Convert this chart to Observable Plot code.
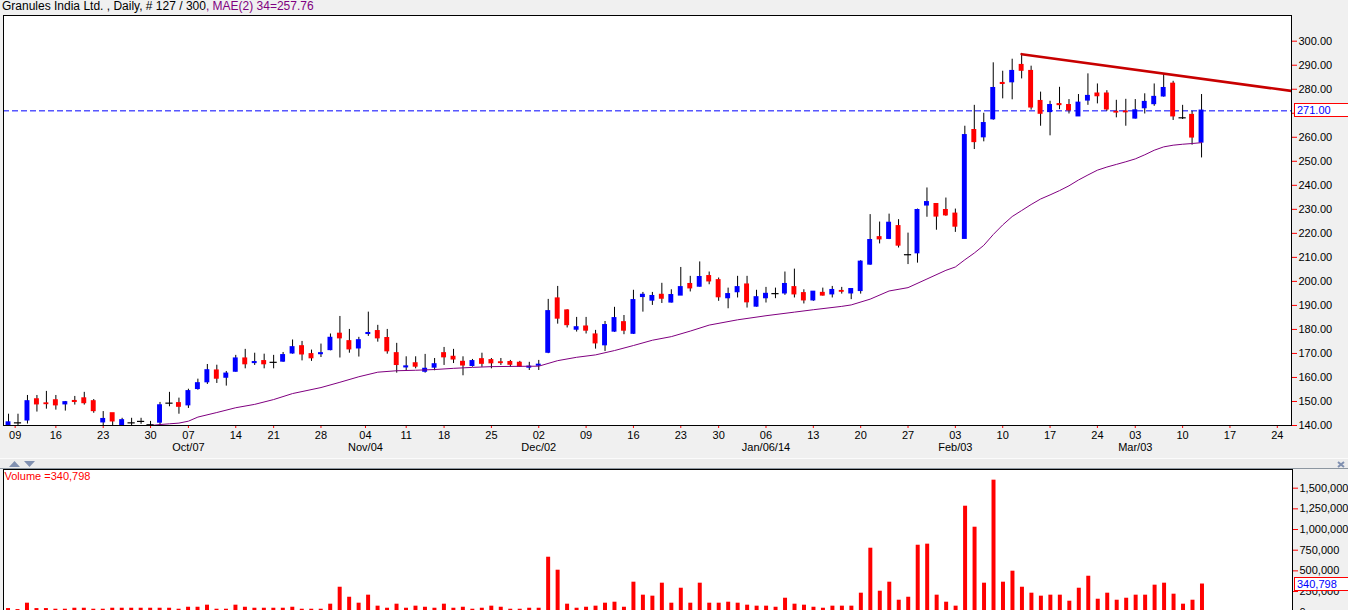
<!DOCTYPE html>
<html><head><meta charset="utf-8">
<script src="https://cdn.jsdelivr.net/npm/d3@7"></script>
<script src="https://cdn.jsdelivr.net/npm/@observablehq/plot@0.6"></script>
<style>
html,body{margin:0;padding:0;background:#f0f0f0;width:1348px;height:610px;overflow:hidden;font-family:"Liberation Sans",Arial,sans-serif;}
#title{position:absolute;left:2px;top:0;height:14px;font-size:12px;line-height:13px;white-space:nowrap;color:#000;}
#title .ma{color:#800080;}
#price{position:absolute;left:0;top:14px;}
#vol{position:absolute;left:0;top:460px;}
#sep{position:absolute;left:0;top:455px;}
.valbox{position:absolute;left:1294px;width:52px;height:12px;border:1px solid #ff0000;background:#fff;color:#0000ff;font-size:11px;line-height:12px;padding-left:2px;box-sizing:content-box;}
</style></head><body>
<div id="title">Granules India Ltd. , Daily, # 127 / 300<span class="ma">, MAE(2) 34=257.76</span></div>
<svg id="sep" width="1348" height="14">
  <rect x="0" y="3" width="1348" height="1" fill="#fbfbfb"/>
  <rect x="0" y="4" width="1348" height="9" fill="#ececec"/>
  <rect x="0" y="13" width="1348" height="1" fill="#8c96a0"/>
  <polygon points="9,12 20,12 14.5,6" fill="#8090b0"/>
  <polygon points="24,6 35,6 29.5,12" fill="#8090b0"/>
  <path d="M1338,7 L1344,12 M1344,7 L1338,12" stroke="#8090b0" stroke-width="2"/>
</svg>
<div id="price"></div>
<div id="vol"></div>
<script>
// ---------------- data ----------------
const startDate = "2013-09-06";
const holidays = ["2013-09-09","2013-10-02","2013-10-16","2013-11-04","2013-11-15","2013-12-25","2014-02-27"];

const opens = [140.2,141.1,142.2,150.8,149.1,150.4,148.9,150.1,151.2,150.0,141.4,145.0,140.0,141.1,141.7,140.3,
141.3,149.3,149.2,148.5,155.3,158.1,162.8,160.0,162.5,167.8,166.1,166.7,166.3,166.7,170.1,172.9,169.6,169.8,171.5,178.1,175.0,
172.2,178.2,179.2,176.3,170.0,164.3,165.8,162.5,164.2,170.0,168.5,166.4,164.9,167.5,167.1,166.2,166.3,166.0,164.2,
165.0,170.4,192.8,187.8,180.0,181.1,177.8,173.5,179.2,182.9,178.3,193.6,192.1,194.3,191.3,194.2,198.8,197.9,202.1,200.4,193.1,
195.6,198.6,189.6,193.1,194.9,195.1,197.5,195.0,192.2,195.1,194.7,195.9,195.1,196.1,207.1,218.3,217.8,222.9,211.1,211.8,231.7,232.1,229.6,
228.1,217.8,262.9,260.1,267.6,282.5,283.0,290.0,287.5,275.0,270.6,273.7,273.3,268.8,275.4,278.1,278.1,270.5,270.6,
267.9,272.2,273.9,277.1,282.2,268.1,269.2,257.9];
const highs = [144.7,144.7,152.5,152.5,154.2,152.5,150.0,152.1,153.8,150.8,145.8,145.0,143.0,143.0,143.0,141.7,
149.6,153.8,151.4,155.1,159.3,165.4,165.1,162.5,169.2,171.7,170.1,169.7,169.2,170.4,175.6,175.0,171.4,173.9,178.1,185.4,180.0,
176.7,187.2,181.7,180.0,174.2,168.6,168.6,169.6,167.9,172.5,171.7,168.6,167.5,170.1,167.9,167.9,167.1,166.7,166.3,
167.1,192.5,197.9,188.2,185.0,185.0,179.6,183.3,189.2,185.8,196.3,195.4,195.4,199.2,196.5,205.8,202.1,208.1,203.9,201.4,197.2,
202.1,202.1,196.3,197.5,197.2,203.9,205.1,196.5,195.8,197.2,197.9,197.5,196.7,208.6,227.8,224.7,228.0,225.7,220.1,230.1,238.9,232.1,234.7,
230.1,264.6,273.3,270.0,291.0,287.5,292.5,294.2,289.6,278.8,275.0,280.8,275.7,277.8,286.4,282.2,279.4,275.4,275.8,
275.7,278.1,282.2,286.1,283.3,273.3,270.8,277.8];
const lows = [139.5,139.8,140.6,145.6,146.8,146.4,146.0,148.5,148.5,145.1,139.8,139.5,139.0,139.5,140.5,139.5,
139.8,147.8,144.7,147.1,154.7,157.1,157.5,156.4,162.2,163.6,165.0,163.6,163.6,166.3,169.7,166.9,166.7,168.3,171.1,168.1,170.1,
168.5,177.1,174.7,169.7,161.8,162.8,163.6,161.8,162.8,165.0,165.8,160.7,164.3,164.2,163.6,165.0,164.2,164.2,162.9,
162.9,169.9,182.2,180.6,178.9,178.1,171.8,170.8,178.8,177.8,177.9,187.2,190.0,190.8,191.0,194.2,195.6,197.6,198.6,191.7,188.6,
193.1,188.9,189.3,191.0,192.8,194.2,193.1,190.6,191.7,193.9,193.1,194.7,192.4,194.7,206.7,215.6,217.4,213.9,207.0,207.6,226.7,221.3,227.1,
220.4,217.8,254.9,258.1,267.1,276.0,275.6,284.3,271.3,264.6,260.6,271.5,269.7,268.8,273.3,273.9,270.8,268.1,264.6,
267.6,269.7,272.9,276.7,267.0,267.4,256.7,251.4];
const closes = [141.2,141.1,150.0,148.9,149.0,148.5,149.6,149.9,149.4,146.1,142.6,141.8,142.1,141.1,141.7,140.3,
148.3,149.3,147.9,154.2,157.5,162.9,159.6,161.5,167.8,165.6,166.3,165.6,166.3,169.2,172.5,169.7,168.1,170.0,176.4,176.4,171.8,
175.4,178.4,176.4,171.0,165.3,164.5,164.6,163.5,165.4,168.5,167.6,165.1,166.7,165.8,166.0,166.1,165.4,164.6,164.4,
165.2,187.5,184.6,181.9,180.8,179.6,174.3,181.7,184.6,179.6,192.1,194.3,193.8,192.9,194.2,197.5,197.2,201.7,200.1,193.5,194.6,
197.5,191.4,193.3,194.7,194.9,198.8,194.7,192.2,195.6,194.2,196.3,195.8,196.7,208.1,217.1,217.6,224.3,215.0,211.1,229.6,232.9,227.1,227.6,
222.9,260.8,258.1,265.8,280.4,282.3,287.5,287.8,272.5,269.9,273.3,273.5,271.3,274.3,277.1,277.2,271.7,270.4,270.5,
271.1,274.6,276.7,280.4,268.8,268.1,260.0,271.0];
const volumes = [44000,32000,109000,44000,44000,36000,36000,48000,48000,36000,36000,48000,48000,48000,48000,48000,
48000,48000,36000,60000,60000,85000,36000,36000,85000,60000,48000,48000,48000,48000,60000,36000,36000,36000,97000,302000,181000,
109000,206000,73000,48000,97000,48000,73000,60000,48000,97000,48000,60000,36000,48000,73000,60000,36000,36000,48000,
48000,665000,508000,97000,48000,60000,73000,109000,121000,60000,363000,206000,194000,351000,109000,290000,109000,351000,109000,109000,121000,
109000,85000,73000,73000,60000,169000,97000,85000,60000,48000,73000,73000,73000,230000,774000,254000,363000,145000,181000,810000,823000,206000,121000,
73000,1282000,1028000,351000,1597000,363000,496000,302000,230000,194000,206000,206000,133000,290000,435000,157000,230000,145000,169000,
206000,206000,327000,351000,218000,97000,145000,340798];

// 34-period moving average (bar number, value)
const maBars   = [14,16,17,18,19,20,22,24,26,28,30,33,35,37,39,41,43,45,47,49,51,53,56,58,60,62,64,66,68,70,72,74,77,80,83,85,88,89,91,93,95,97,99,100,101,102,103,104,105,106,107,108,109,110,111,112,113,114,115,116,117,118,119,120,121,122,123,124,125,126];
const maValues = [139.6,140.4,140.7,141.0,141.8,143.5,145.4,147.4,148.8,150.8,153.3,155.8,158.0,160.3,162.2,162.8,163.0,163.3,163.8,164.2,164.5,164.6,164.7,167.0,168.4,169.4,171.2,173.3,175.5,177.0,179.3,181.8,184.0,185.7,187.2,188.2,189.6,190.2,192.6,196.0,197.4,201.0,204.6,206.0,209.0,211.8,215.0,219.5,223.5,227.0,229.5,232.0,234.3,236.0,237.8,239.8,242.2,244.3,246.3,247.6,248.7,249.8,251.0,252.7,254.6,256.0,256.7,257.1,257.4,257.76];

// resistance trend line (bar number, price)
const trendBars = [107, 136];
const trendValues = [294.6, 279.0];

const weekDates = ["2013-09-09","2013-09-16","2013-09-23","2013-09-30","2013-10-07","2013-10-14","2013-10-21","2013-10-28",
"2013-11-04","2013-11-11","2013-11-18","2013-11-25","2013-12-02","2013-12-09","2013-12-16","2013-12-23","2013-12-30",
"2014-01-06","2014-01-13","2014-01-20","2014-01-27","2014-02-03","2014-02-10","2014-02-17","2014-02-24",
"2014-03-03","2014-03-10","2014-03-17","2014-03-24"];
const monthDates = ["2013-10-07","2013-11-04","2013-12-02","2014-01-06","2014-02-03","2014-03-03"];
const monthLabels = ["Oct/07","Nov/04","Dec/02","Jan/06/14","Feb/03","Mar/03"];
const priceTicks = d3.range(140, 301, 10);
const volumeTicks = d3.range(0, 1500001, 250000);

// ---------------- calendar of trading bars ----------------
const parse = d3.utcParse("%Y-%m-%d"), fmt = d3.utcFormat("%Y-%m-%d");
const cal = [];
let day = parse(startDate);
while (cal.length < 140) {
  const s = fmt(day), wd = day.getUTCDay();
  if (wd !== 0 && wd !== 6 && !(holidays.includes(s) && s <= "2014-03-12")) cal.push(s);
  day = d3.utcDay.offset(day, 1);
}
function posOf(s) {
  const k = cal.indexOf(s);
  if (k >= 0) return k;
  return cal.findIndex(c => c > s) - 0.3;
}
const candles = opens.map((o, i) => ({i, date: cal[i], open: o, high: highs[i], low: lows[i], close: closes[i], volume: volumes[i]}));
const ma = maBars.map((b, k) => ({i: b, v: maValues[k]}));
const trend = trendBars.map((b, k) => ({i: b, v: trendValues[k]}));
const weekPos = weekDates.map(posOf);
const weekLabel = new Map(weekPos.map((p, k) => [p, weekDates[k].slice(8)]));
const months = monthDates.map((d, k) => ({i: posOf(d), label: monthLabels[k]}));
const last = candles[candles.length - 1];

const xDomain = [-0.53, 135.5];
const W = 1348;
const FF = "'Liberation Sans', Arial, sans-serif";
const FS = 11;
const font = {fontFamily: FF, fontSize: "11px", background: "transparent"};
const colorOf = d => d.close > d.open ? "#0000ff" : "#ff0000";

// ---------------- price panel ----------------
const price = Plot.plot({
  width: W, height: 446,
  marginTop: 1, marginBottom: 35, marginLeft: 3, marginRight: 57,
  style: font,
  x: {domain: xDomain, label: null},
  y: {domain: [140, 310.7], label: null},
  marks: [
    Plot.frame({fill: "white", stroke: null}),
    Plot.ruleY([last.close], {stroke: "#0000ff", strokeWidth: 1, strokeDasharray: "6,3"}),
    Plot.ruleX(candles, {x: "i", y1: "low", y2: "high", stroke: "black", strokeWidth: 1, clip: true}),
    Plot.rect(candles.filter(d => d.open !== d.close), {
      x1: d => d.i - 0.26, x2: d => d.i + 0.26, y1: "open", y2: "close",
      fill: colorOf, insetTop: -0.8, insetBottom: -0.8, clip: true
    }),
    Plot.ruleY(candles.filter(d => d.open === d.close), {
      y: "open", x1: d => d.i - 0.38, x2: d => d.i + 0.38, stroke: "black", strokeWidth: 1.2, clip: true
    }),
    Plot.line(ma, {x: "i", y: "v", stroke: "#800080", strokeWidth: 1, clip: true}),
    Plot.line(trend, {x: "i", y: "v", stroke: "#c80000", strokeWidth: 2.6, clip: true}),
    Plot.axisY({anchor: "right", ticks: priceTicks, tickFormat: d => d.toFixed(2), tickSize: 5, tickPadding: 2,
      stroke: "#ff0000", fill: "black", label: null, fontSize: FS, fontFamily: FF}),
    Plot.axisX({anchor: "bottom", ticks: weekPos, tickFormat: d => weekLabel.get(d), tickSize: 3, tickPadding: 3,
      stroke: "#ff0000", fill: "black", label: null, fontSize: FS, fontFamily: FF}),
    Plot.text(months, {x: "i", text: "label", frameAnchor: "bottom", dy: 25, fill: "black", fontSize: FS, fontFamily: FF}),
    Plot.frame({stroke: "black", strokeWidth: 1})
  ]
});
document.getElementById("price").append(price);

// ---------------- volume panel ----------------
const vol = Plot.plot({
  width: W, height: 150,
  marginTop: 9, marginBottom: -1.7, marginLeft: 3, marginRight: 56,
  style: font,
  x: {domain: xDomain, label: null, axis: null},
  y: {domain: [0, 1726000], label: null},
  marks: [
    Plot.frame({fill: "white", stroke: null}),
    Plot.rect(candles, {x1: d => d.i - 0.21, x2: d => d.i + 0.21, y1: 0, y2: "volume", fill: "#ff0000"}),
    Plot.axisY({anchor: "right", ticks: volumeTicks, tickFormat: d3.format(","), tickSize: 5, tickPadding: 2,
      stroke: "#ff0000", fill: "black", label: null, fontSize: FS, fontFamily: FF}),
    Plot.text(["Volume =" + d3.format(",")(last.volume)], {frameAnchor: "top-left", dx: 1, dy: 7, lineAnchor: "middle",
      fill: "#ff0000", textAnchor: "start", fontSize: FS, fontFamily: FF}),
    Plot.frame({stroke: "black", strokeWidth: 1})
  ]
});
document.getElementById("vol").append(vol);

// current value boxes on the axes
function box(text, top) {
  const b = document.createElement("div");
  b.className = "valbox";
  b.style.top = top + "px";
  b.textContent = text;
  document.body.append(b);
}
box(last.close.toFixed(2), 14 + price.scale("y").apply(last.close) - 7);
box(d3.format(",")(last.volume), 460 + vol.scale("y").apply(last.volume) - 7);
</script>
</body></html>
